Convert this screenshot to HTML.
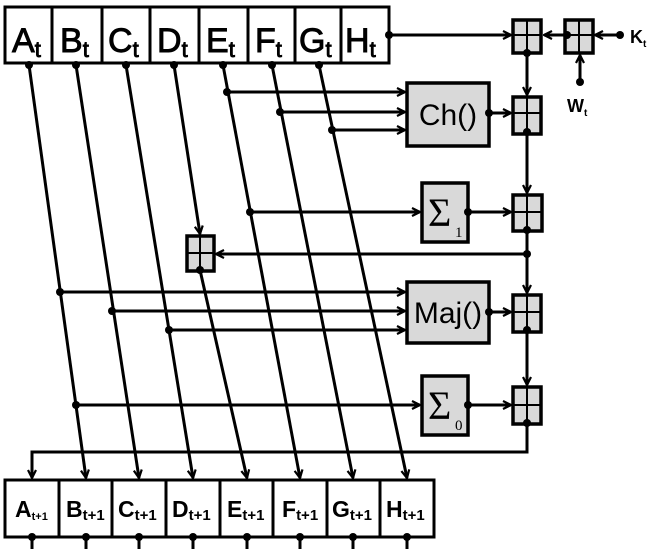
<!DOCTYPE html>
<html><head><meta charset="utf-8"><style>
html,body{margin:0;padding:0;background:#fff;}
svg{display:block;}
text{font-family:"Liberation Sans",sans-serif;fill:#000;}
</style></head><body>
<svg width="650" height="549" viewBox="0 0 650 549" xmlns="http://www.w3.org/2000/svg">
<defs>
<marker id="ar" viewBox="0 0 10 10" refX="9" refY="5" markerWidth="10" markerHeight="10" markerUnits="userSpaceOnUse" orient="auto">
<path d="M1,1 L9,5 L1,9" fill="none" stroke="#000" stroke-width="2.2"/>
</marker>
</defs>
<g stroke="#000" stroke-width="3" fill="#fff">
<rect x="5" y="7" width="384" height="56"/>
<line x1="52" y1="7" x2="52" y2="63"/><line x1="102" y1="7" x2="102" y2="63"/>
<line x1="150" y1="7" x2="150" y2="63"/><line x1="199" y1="7" x2="199" y2="63"/>
<line x1="248" y1="7" x2="248" y2="63"/><line x1="295" y1="7" x2="295" y2="63"/>
<line x1="341" y1="7" x2="341" y2="63"/>
<rect x="5" y="480" width="429" height="57"/>
<line x1="59" y1="480" x2="59" y2="537"/><line x1="112" y1="480" x2="112" y2="537"/>
<line x1="166" y1="480" x2="166" y2="537"/><line x1="220" y1="480" x2="220" y2="537"/>
<line x1="273" y1="480" x2="273" y2="537"/><line x1="327" y1="480" x2="327" y2="537"/>
<line x1="380" y1="480" x2="380" y2="537"/>
</g>
<g font-size="34" stroke="#000" stroke-width="0.9">
<text x="12" y="52">A<tspan font-size="22" dy="5">t</tspan></text>
<text x="60" y="52">B<tspan font-size="22" dy="5">t</tspan></text>
<text x="108" y="52">C<tspan font-size="22" dy="5">t</tspan></text>
<text x="157" y="52">D<tspan font-size="22" dy="5">t</tspan></text>
<text x="206" y="52">E<tspan font-size="22" dy="5">t</tspan></text>
<text x="255" y="52">F<tspan font-size="22" dy="5">t</tspan></text>
<text x="299" y="52">G<tspan font-size="22" dy="5">t</tspan></text>
<text x="345" y="52">H<tspan font-size="22" dy="5">t</tspan></text>
</g>
<g font-size="23" font-weight="bold">
<text x="15" y="517">A<tspan font-size="11" dy="3">t+1</tspan></text>
<text x="66" y="517">B<tspan font-size="15" dy="3">t+1</tspan></text>
<text x="118" y="517">C<tspan font-size="15" dy="3">t+1</tspan></text>
<text x="172" y="517">D<tspan font-size="15" dy="3">t+1</tspan></text>
<text x="227" y="517">E<tspan font-size="15" dy="3">t+1</tspan></text>
<text x="282" y="517">F<tspan font-size="15" dy="3">t+1</tspan></text>
<text x="332" y="517">G<tspan font-size="15" dy="3">t+1</tspan></text>
<text x="386" y="517">H<tspan font-size="15" dy="3">t+1</tspan></text>
</g>
<g stroke="#000" stroke-width="3" fill="none">
<line x1="29" y1="65" x2="86" y2="478" marker-end="url(#ar)"/>
<line x1="76" y1="65" x2="139" y2="478" marker-end="url(#ar)"/>
<line x1="126" y1="65" x2="193" y2="478" marker-end="url(#ar)"/>
<line x1="174" y1="65" x2="200" y2="234" marker-end="url(#ar)"/>
<line x1="200" y1="270" x2="247" y2="478" marker-end="url(#ar)"/>
<line x1="223" y1="65" x2="300" y2="478" marker-end="url(#ar)"/>
<line x1="272" y1="65" x2="353" y2="478" marker-end="url(#ar)"/>
<line x1="319" y1="65" x2="407" y2="478" marker-end="url(#ar)"/>
<line x1="389" y1="35" x2="511" y2="35" marker-end="url(#ar)"/>
<line x1="565" y1="35" x2="544" y2="35" marker-end="url(#ar)"/>
<line x1="620" y1="35" x2="595" y2="35" marker-end="url(#ar)"/>
<line x1="580" y1="82" x2="580" y2="55" marker-end="url(#ar)"/>
<line x1="527" y1="53" x2="527" y2="95" marker-end="url(#ar)"/>
<line x1="527" y1="134" x2="527" y2="193" marker-end="url(#ar)"/>
<line x1="527" y1="230" x2="527" y2="293" marker-end="url(#ar)"/>
<line x1="527" y1="254" x2="216" y2="254" marker-end="url(#ar)"/>
<line x1="527" y1="330" x2="527" y2="385" marker-end="url(#ar)"/>
<polyline points="527,423 527,452 32,452 32,478" marker-end="url(#ar)"/>
<line x1="227" y1="92" x2="405" y2="92" marker-end="url(#ar)"/>
<line x1="280" y1="112" x2="405" y2="112" marker-end="url(#ar)"/>
<line x1="332" y1="130" x2="405" y2="130" marker-end="url(#ar)"/>
<line x1="489" y1="113" x2="511" y2="113" marker-end="url(#ar)"/>
<line x1="250" y1="212" x2="420" y2="212" marker-end="url(#ar)"/>
<line x1="468" y1="212" x2="511" y2="212" marker-end="url(#ar)"/>
<line x1="60" y1="292" x2="405" y2="292" marker-end="url(#ar)"/>
<line x1="112" y1="311" x2="405" y2="311" marker-end="url(#ar)"/>
<line x1="169" y1="330" x2="405" y2="330" marker-end="url(#ar)"/>
<line x1="489" y1="312" x2="511" y2="312" marker-end="url(#ar)"/>
<line x1="76" y1="405" x2="420" y2="405" marker-end="url(#ar)"/>
<line x1="468" y1="405" x2="511" y2="405" marker-end="url(#ar)"/>
<line x1="32" y1="537" x2="32" y2="549"/><line x1="86" y1="537" x2="86" y2="549"/>
<line x1="139" y1="537" x2="139" y2="549"/><line x1="193" y1="537" x2="193" y2="549"/>
<line x1="247" y1="537" x2="247" y2="549"/><line x1="300" y1="537" x2="300" y2="549"/>
<line x1="353" y1="537" x2="353" y2="549"/><line x1="407" y1="537" x2="407" y2="549"/>
</g>
<g stroke="#000" stroke-width="3.5" fill="#d9d9d9">
<rect x="407" y="83" width="82" height="63"/>
<rect x="422" y="183" width="46" height="59"/>
<rect x="407" y="282" width="82" height="61"/>
<rect x="422" y="376" width="46" height="59"/>
</g>
<g stroke="#000" stroke-width="3.5" fill="#d9d9d9">
<rect x="513" y="20" width="28" height="33"/><path d="M527,20V53M513,35H541" fill="none" stroke-width="2"/>
<rect x="565" y="20" width="28" height="33"/><path d="M579,20V53M565,35H593" fill="none" stroke-width="2"/>
<rect x="513" y="97" width="28" height="37"/><path d="M527,97V134M513,113H541" fill="none" stroke-width="2"/>
<rect x="513" y="195" width="29" height="36"/><path d="M527,195V231M513,212H542" fill="none" stroke-width="2"/>
<rect x="187" y="236" width="27" height="35"/><path d="M200,236V271M187,253H214" fill="none" stroke-width="2"/>
<rect x="513" y="295" width="28" height="37"/><path d="M527,295V332M513,312H541" fill="none" stroke-width="2"/>
<rect x="513" y="387" width="28" height="37"/><path d="M527,387V424M513,405H541" fill="none" stroke-width="2"/>
</g>
<g font-size="30" text-anchor="middle">
<text x="448" y="125">Ch()</text>
<text x="448" y="323">Maj()</text>
</g>
<text x="428" y="226" font-size="40" style="font-family:'Liberation Serif',serif">Σ</text>
<text x="455" y="237" font-size="15" style="font-family:'Liberation Serif',serif">1</text>
<text x="428" y="419" font-size="40" style="font-family:'Liberation Serif',serif">Σ</text>
<text x="455" y="430" font-size="15" style="font-family:'Liberation Serif',serif">0</text>
<text x="630" y="43" font-size="18" font-weight="bold">K<tspan font-size="10" dy="4">t</tspan></text>
<text x="567" y="112" font-size="18" font-weight="bold">W<tspan font-size="10" dy="4">t</tspan></text>
<g fill="#000">
<circle cx="29" cy="65" r="4"/><circle cx="76" cy="65" r="4"/><circle cx="126" cy="65" r="4"/>
<circle cx="174" cy="65" r="4"/><circle cx="223" cy="65" r="4"/><circle cx="272" cy="65" r="4"/>
<circle cx="319" cy="65" r="4"/><circle cx="389" cy="35" r="4"/>
<circle cx="620" cy="35" r="4"/><circle cx="567" cy="35" r="4"/><circle cx="580" cy="82" r="4"/>
<circle cx="527" cy="53" r="4"/><circle cx="527" cy="132" r="4"/><circle cx="527" cy="230" r="4"/>
<circle cx="527" cy="254" r="4"/><circle cx="527" cy="330" r="4"/><circle cx="527" cy="423" r="4"/>
<circle cx="200" cy="270" r="4"/>
<circle cx="227" cy="92" r="4"/><circle cx="280" cy="112" r="4"/><circle cx="332" cy="130" r="4"/>
<circle cx="489" cy="113" r="4"/><circle cx="250" cy="212" r="4"/><circle cx="468" cy="212" r="4"/>
<circle cx="60" cy="292" r="4"/><circle cx="112" cy="311" r="4"/><circle cx="169" cy="330" r="4"/>
<circle cx="489" cy="312" r="4"/><circle cx="76" cy="405" r="4"/><circle cx="468" cy="405" r="4"/>
<circle cx="32" cy="537" r="4"/><circle cx="86" cy="537" r="4"/><circle cx="139" cy="537" r="4"/>
<circle cx="193" cy="537" r="4"/><circle cx="247" cy="537" r="4"/><circle cx="300" cy="537" r="4"/>
<circle cx="353" cy="537" r="4"/><circle cx="407" cy="537" r="4"/>
</g>
</svg>
</body></html>
